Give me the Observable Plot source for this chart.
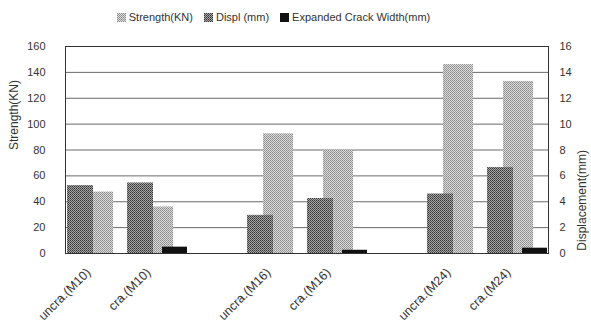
<!DOCTYPE html>
<html>
<head>
<meta charset="utf-8">
<script src="https://cdn.jsdelivr.net/npm/d3@7"></script>
<script src="https://cdn.jsdelivr.net/npm/@observablehq/plot@0.6"></script>
<style>
  html, body { margin: 0; padding: 0; background: #fff; }
  body { width: 591px; height: 335px; overflow: hidden; font-family: "Liberation Sans", Arial, sans-serif; }
  #legend { height: 34px; display: flex; justify-content: center; align-items: center; gap: 11px; font-size: 11px; color: #333; padding-right: 44px; }
  #legend span { display: inline-flex; align-items: center; gap: 3px; }
  #legend svg { display: block; }
</style>
</head>
<body>
<div id="legend"></div>
<div id="chart"></div>
<script>
// ---- data ----
const categories = ["uncra.(M10)", "cra.(M10)", "uncra.(M16)", "cra.(M16)", "uncra.(M24)", "cra.(M24)"];
const slots = ["uncra.(M10)", "cra.(M10)", "gap1", "uncra.(M16)", "cra.(M16)", "gap2", "uncra.(M24)", "cra.(M24)"];
const strengthKN = [47.5, 36, 92.5, 80, 146, 133];
const displMM = [5.25, 5.45, 2.95, 4.25, 4.6, 6.65];
const crackMM = [0, 0.49, 0, 0.25, 0, 0.41];
const leftTicks = [0, 20, 40, 60, 80, 100, 120, 140, 160];
const rightTicks = [0, 2, 4, 6, 8, 10, 12, 14, 16];
const seriesNames = ["Strength(KN)", "Displ (mm)", "Expanded Crack Width(mm)"];

const rows = categories.map((c, i) => ({cat: c, strength: strengthKN[i], displ: displMM[i], crack: crackMM[i]}));
const ratio = 10; // left units per right unit

const patDefs = `
<pattern id="pStr" width="2" height="2" patternUnits="userSpaceOnUse">
  <rect width="2" height="2" fill="#dadada"/>
  <rect x="0" y="0" width="1" height="1" fill="#8a8a8a"/>
  <rect x="1" y="1" width="1" height="1" fill="#9c9c9c"/>
</pattern>
<pattern id="pDis" width="2" height="2" patternUnits="userSpaceOnUse">
  <rect width="2" height="2" fill="#a4a4a4"/>
  <rect x="0" y="0" width="1" height="1" fill="#333"/>
  <rect x="1" y="1" width="1" height="1" fill="#555"/>
</pattern>`;

const chart = Plot.plot({
  width: 591,
  height: 301,
  marginLeft: 65,
  marginRight: 43,
  marginTop: 12,
  marginBottom: 82,
  style: {fontFamily: "'Liberation Sans', Arial, sans-serif", fontSize: "11px", color: "#333", background: "#fff"},
  x: {type: "band", domain: slots, padding: 0, axis: null},
  y: {domain: [0, 160], axis: null},
  marks: [
    Plot.gridY(leftTicks, {stroke: "#6a6a6a", strokeOpacity: 1}),
    Plot.barY(rows, {x: "cat", y: "strength", fill: "url(#pStr)", insetLeft: 16, insetRight: 14}),
    Plot.barY(rows, {x: "cat", y: d => d.displ * ratio, fill: "url(#pDis)", insetLeft: 0, insetRight: 34}),
    Plot.barY(rows, {x: "cat", y: d => d.crack * ratio, fill: "#111", insetLeft: 35, insetRight: 0}),
    Plot.frame({stroke: "#333"}),
    Plot.axisY(leftTicks, {anchor: "left", tickSize: 0, tickPadding: 20, label: null, fontSize: 11}),
    Plot.axisY(rightTicks.map(v => v * ratio), {anchor: "right", tickSize: 0, tickPadding: 11, tickFormat: d => d / ratio, label: null, fontSize: 11}),
    Plot.axisX(categories, {anchor: "bottom", tickSize: 0, tickPadding: 17, tickRotate: -45, dx: -9, label: null, fontSize: 12.5}),
    Plot.text(["Strength(KN)"], {frameAnchor: "left", dx: -51, rotate: -90, fontSize: 12, fill: "#333"}),
    Plot.text(["Displacement(mm)"], {frameAnchor: "right", dx: 34, rotate: -90, fontSize: 12, fill: "#333"})
  ]
});

const defs = document.createElementNS("http://www.w3.org/2000/svg", "defs");
defs.innerHTML = patDefs;
chart.insertBefore(defs, chart.firstChild);
document.getElementById("chart").appendChild(chart);

// legend
const fills = ["url(#pStr)", "url(#pDis)", "#111"];
const legend = document.getElementById("legend");
seriesNames.forEach((name, i) => {
  const s = document.createElement("span");
  s.innerHTML = `<svg width="9" height="9"><rect width="9" height="9" fill="${fills[i]}"/></svg>${name}`;
  legend.appendChild(s);
});
</script>
</body>
</html>
